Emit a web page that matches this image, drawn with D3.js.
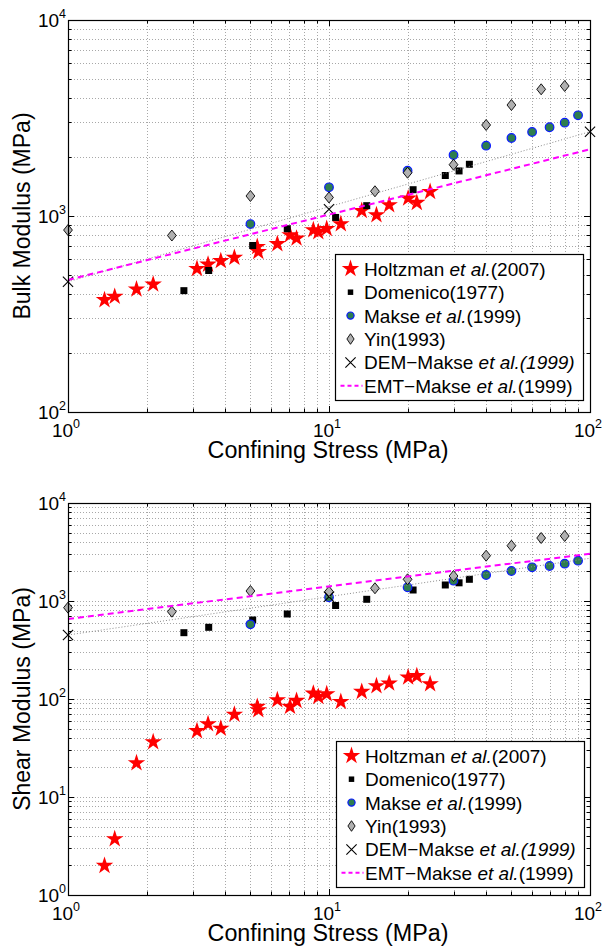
<!DOCTYPE html>
<html lang="en">
<head>
<meta charset="UTF-8">
<title>Bulk and Shear Modulus vs Confining Stress</title>
<script src="https://d3js.org/d3.v7.min.js"></script>
<style>
  body { margin: 0; background: #fff; }
  svg text { font-family: "Liberation Sans", Arial, Helvetica, sans-serif; fill: #000; }
</style>
</head>
<body>
<div id="chart"></div>
<script>
// Holtzman et al. (2007)
const holtzmanP = [1.38, 1.51, 1.83, 2.12, 3.12, 3.44, 3.85, 4.34, 5.31, 5.36, 6.34, 7.09, 7.51, 8.71, 9.10, 9.80, 11.1, 13.35, 15.2, 17.0, 20.1, 21.7, 24.4];
const holtzmanBulk = [373, 388, 423, 448, 538, 566, 590, 613, 697, 657, 720, 800, 769, 848, 829, 861, 910, 1064, 1012, 1138, 1231, 1169, 1330];
const holtzmanShear = [1.99, 3.73, 22.2, 36.4, 47.2, 55.6, 50.0, 69.5, 83.5, 77.2, 97.7, 83.5, 96.1, 114, 105.5, 112.5, 93.8, 118.7, 135.8, 144.6, 166.5, 171.8, 142.3];

// Domenico (1977)
const domenicoP = [2.78, 3.46, 5.1, 6.92, 10.6, 13.95, 21.0, 27.9, 31.5, 34.5];
const domenicoBulk = [416, 527, 707, 861, 983, 1129, 1362, 1609, 1698, 1836];
const domenicoShear = [475, 539, 640, 737, 900, 1041, 1295, 1457, 1533, 1665];

// Makse et al. (1999)
const makseP = [5, 10, 20, 30, 40, 50, 60, 70, 80, 90];
const makseBulk = [910, 1401, 1703, 2047, 2284, 2500, 2683, 2836, 2992, 3265];
const makseShear = [578, 1091, 1380, 1611, 1842, 2024, 2208, 2275, 2404, 2577];

// Yin (1993)
const yinP = [1, 2.5, 5, 10, 15, 20, 30, 40, 50, 65, 80];
const yinBulk = [848, 795, 1265, 1243, 1337, 1663, 1827, 2913, 3684, 4430, 4607];
const yinShear = [855, 778, 1265, 1245, 1349, 1665, 1799, 2899, 3665, 4395, 4607];

// DEM - Makse et al. (1999)
const demP = [1, 10, 100];
const demBulk = [462, 1082, 2692];
const demShear = [450, 1106];

// dotted gray trend through DEM
const trendP = [1, 100];
const trendBulk = [462, 2692];
const trendShear = [450, 2730];

// EMT - Makse et al. (1999)
const emtP = [1, 100];
const emtBulk = [472, 2190];
const emtShear = [655, 3040];

const W = 603, H = 949;
const left = 68, right = 590;

const svg = d3.select("#chart").append("svg")
    .attr("width", W)
    .attr("height", H);
svg.append("rect").attr("width", W).attr("height", H).attr("fill", "#fff");

const panels = [
    { top: 20, bottom: 412, yDomain: [100, 10000], yLabel: "Bulk Modulus (MPa)",
      holtz: holtzmanBulk, dom: domenicoBulk, makse: makseBulk, yin: yinBulk,
      dem: demBulk, trend: trendBulk, emt: emtBulk, legendX: 335, legendY: 254 },
    { top: 503, bottom: 895, yDomain: [1, 10000], yLabel: "Shear Modulus (MPa)",
      holtz: holtzmanShear, dom: domenicoShear, makse: makseShear, yin: yinShear,
      dem: demShear, trend: trendShear, emt: emtShear, legendX: 336, legendY: 741 }
];

const isMajor = v => Math.abs(Math.log10(v) - Math.round(Math.log10(v))) < 1e-6;

const starPath = d3.symbol(d3.symbolStar, 95)();
const squarePath = d3.symbol(d3.symbolSquare, 49)();
const timesPath = d3.symbol(d3.symbolTimes, 70)();
function diamondPath(hw, hh) {
    return `M0,${-hh}L${hw},0L0,${hh}L${-hw},0Z`;
}

// draw one kind of marker at (px, py)
function marker(g, kind, px, py, small) {
    if (kind === "star") {
        g.append("path").attr("d", starPath).attr("transform", `translate(${px},${py})`)
            .attr("fill", "#ff0000");
    } else if (kind === "square") {
        g.append("path").attr("d", small ? d3.symbol(d3.symbolSquare, 30)() : squarePath)
            .attr("transform", `translate(${px},${py})`)
            .attr("fill", "#000");
    } else if (kind === "circle") {
        g.append("circle").attr("cx", px).attr("cy", py).attr("r", small ? 3.6 : 4.3)
            .attr("fill", "#2e7d4f").attr("stroke", "#0a1aff").attr("stroke-width", 1.2);
    } else if (kind === "diamond") {
        g.append("path").attr("d", small ? diamondPath(3.6, 5.3) : diamondPath(4.4, 5.5))
            .attr("transform", `translate(${px},${py})`)
            .attr("fill", "#b0b0b0").attr("stroke", "#000").attr("stroke-width", 0.9);
    } else if (kind === "times") {
        g.append("path").attr("d", timesPath).attr("transform", `translate(${px},${py})`)
            .attr("fill", "none").attr("stroke", "#000").attr("stroke-width", 1.1);
    }
}

function pow10Label(sel, exp, baseSize, supSize) {
    sel.append("tspan").attr("font-size", baseSize).text("10");
    sel.append("tspan").attr("font-size", supSize).attr("dy", -9).text(exp);
}

const legendItems = [
    { kind: "star", parts: [["Holtzman ", false], ["et al.", true], ["(2007)", false]] },
    { kind: "square", parts: [["Domenico(1977)", false]] },
    { kind: "circle", parts: [["Makse ", false], ["et al.", true], ["(1999)", false]] },
    { kind: "diamond", parts: [["Yin(1993)", false]] },
    { kind: "times", parts: [["DEM\u2212Makse ", false], ["et al.(1999)", true]] },
    { kind: "emt", parts: [["EMT\u2212Makse ", false], ["et al.", true], ["(1999)", false]] }
];

panels.forEach(p => {
    const x = d3.scaleLog().domain([1, 100]).range([left, right]);
    const y = d3.scaleLog().domain(p.yDomain).range([p.bottom, p.top]);
    const g = svg.append("g");

    const xt = x.ticks();
    const yt = y.ticks();

    // dotted grid
    g.selectAll(".gx").data(xt.filter(v => v > 1 && v < 100)).join("line")
        .attr("x1", d => Math.round(x(d)) + 0.5).attr("x2", d => Math.round(x(d)) + 0.5)
        .attr("y1", p.top).attr("y2", p.bottom)
        .attr("stroke", "#a8a8a8").attr("stroke-width", 1).attr("stroke-dasharray", "1,2");
    g.selectAll(".gy").data(yt.filter(v => v > p.yDomain[0] && v < p.yDomain[1])).join("line")
        .attr("x1", left).attr("x2", right)
        .attr("y1", d => Math.round(y(d)) + 0.5).attr("y2", d => Math.round(y(d)) + 0.5)
        .attr("stroke", "#a8a8a8").attr("stroke-width", 1).attr("stroke-dasharray", "1,2");

    // inward ticks on all four sides
    xt.forEach(v => {
        const len = isMajor(v) ? 6 : 3.5;
        const px = Math.round(x(v)) + 0.5;
        g.append("line").attr("x1", px).attr("x2", px).attr("y1", p.bottom).attr("y2", p.bottom - len).attr("stroke", "#000");
        g.append("line").attr("x1", px).attr("x2", px).attr("y1", p.top).attr("y2", p.top + len).attr("stroke", "#000");
    });
    yt.forEach(v => {
        const len = isMajor(v) ? 6 : 3.5;
        const py = Math.round(y(v)) + 0.5;
        g.append("line").attr("x1", left).attr("x2", left + len).attr("y1", py).attr("y2", py).attr("stroke", "#000");
        g.append("line").attr("x1", right).attr("x2", right - len).attr("y1", py).attr("y2", py).attr("stroke", "#000");
    });

    // tick labels
    xt.filter(isMajor).forEach(v => {
        const t = g.append("text").attr("x", x(v) - 2).attr("y", p.bottom + 25).attr("text-anchor", "middle");
        pow10Label(t, Math.round(Math.log10(v)), 19, 12.5);
    });
    yt.filter(isMajor).forEach(v => {
        const t = g.append("text").attr("x", left - 2).attr("y", y(v) + 7).attr("text-anchor", "end");
        pow10Label(t, Math.round(Math.log10(v)), 19, 12.5);
    });

    // axis titles
    g.append("text").attr("x", (left + right) / 2 - 1).attr("y", p.bottom + 46)
        .attr("text-anchor", "middle").attr("font-size", 23.3).text("Confining Stress (MPa)");
    g.append("text").attr("transform", `translate(30,${(p.top + p.bottom) / 2}) rotate(-90)`)
        .attr("text-anchor", "middle").attr("font-size", 23).text(p.yLabel);

    // data
    holtzmanP.forEach((v, i) => marker(g, "star", x(v), y(p.holtz[i])));
    domenicoP.forEach((v, i) => marker(g, "square", x(v), y(p.dom[i])));
    makseP.forEach((v, i) => marker(g, "circle", x(v), y(p.makse[i])));
    yinP.forEach((v, i) => marker(g, "diamond", x(v), y(p.yin[i])));
    p.dem.forEach((v, i) => marker(g, "times", x(demP[i]), y(v)));

    const line = d3.line().x(d => x(d[0])).y(d => y(d[1]));
    g.append("path").datum(d3.zip(trendP, p.trend)).attr("d", line)
        .attr("fill", "none").attr("stroke", "#8c8c8c").attr("stroke-width", 1).attr("stroke-dasharray", "1,2");
    g.append("path").datum(d3.zip(emtP, p.emt)).attr("d", line)
        .attr("fill", "none").attr("stroke", "#ff00ff").attr("stroke-width", 2).attr("stroke-dasharray", "6,4");

    // axis box
    g.append("rect").attr("x", left + 0.5).attr("y", p.top + 0.5)
        .attr("width", right - left).attr("height", p.bottom - p.top)
        .attr("fill", "none").attr("stroke", "#000").attr("stroke-width", 1.2);

    // legend
    const lg = svg.append("g").attr("transform", `translate(${p.legendX + 0.5},${p.legendY + 0.5})`);
    lg.append("rect").attr("width", 248).attr("height", 146)
        .attr("fill", "#fff").attr("stroke", "#000").attr("stroke-width", 1.2);
    legendItems.forEach((it, i) => {
        const cy = 14.3 + i * 23.4;
        if (it.kind === "emt") {
            lg.append("line").attr("x1", 5).attr("x2", 27).attr("y1", cy).attr("y2", cy)
                .attr("stroke", "#ff00ff").attr("stroke-width", 2).attr("stroke-dasharray", "4,3");
        } else {
            marker(lg, it.kind, 15, cy, true);
        }
        const t = lg.append("text").attr("x", 28.5).attr("y", cy + 7).attr("font-size", 19);
        it.parts.forEach(([s, ital]) => {
            t.append("tspan").attr("font-style", ital ? "italic" : "normal").text(s);
        });
    });
});
</script>
</body>
</html>
